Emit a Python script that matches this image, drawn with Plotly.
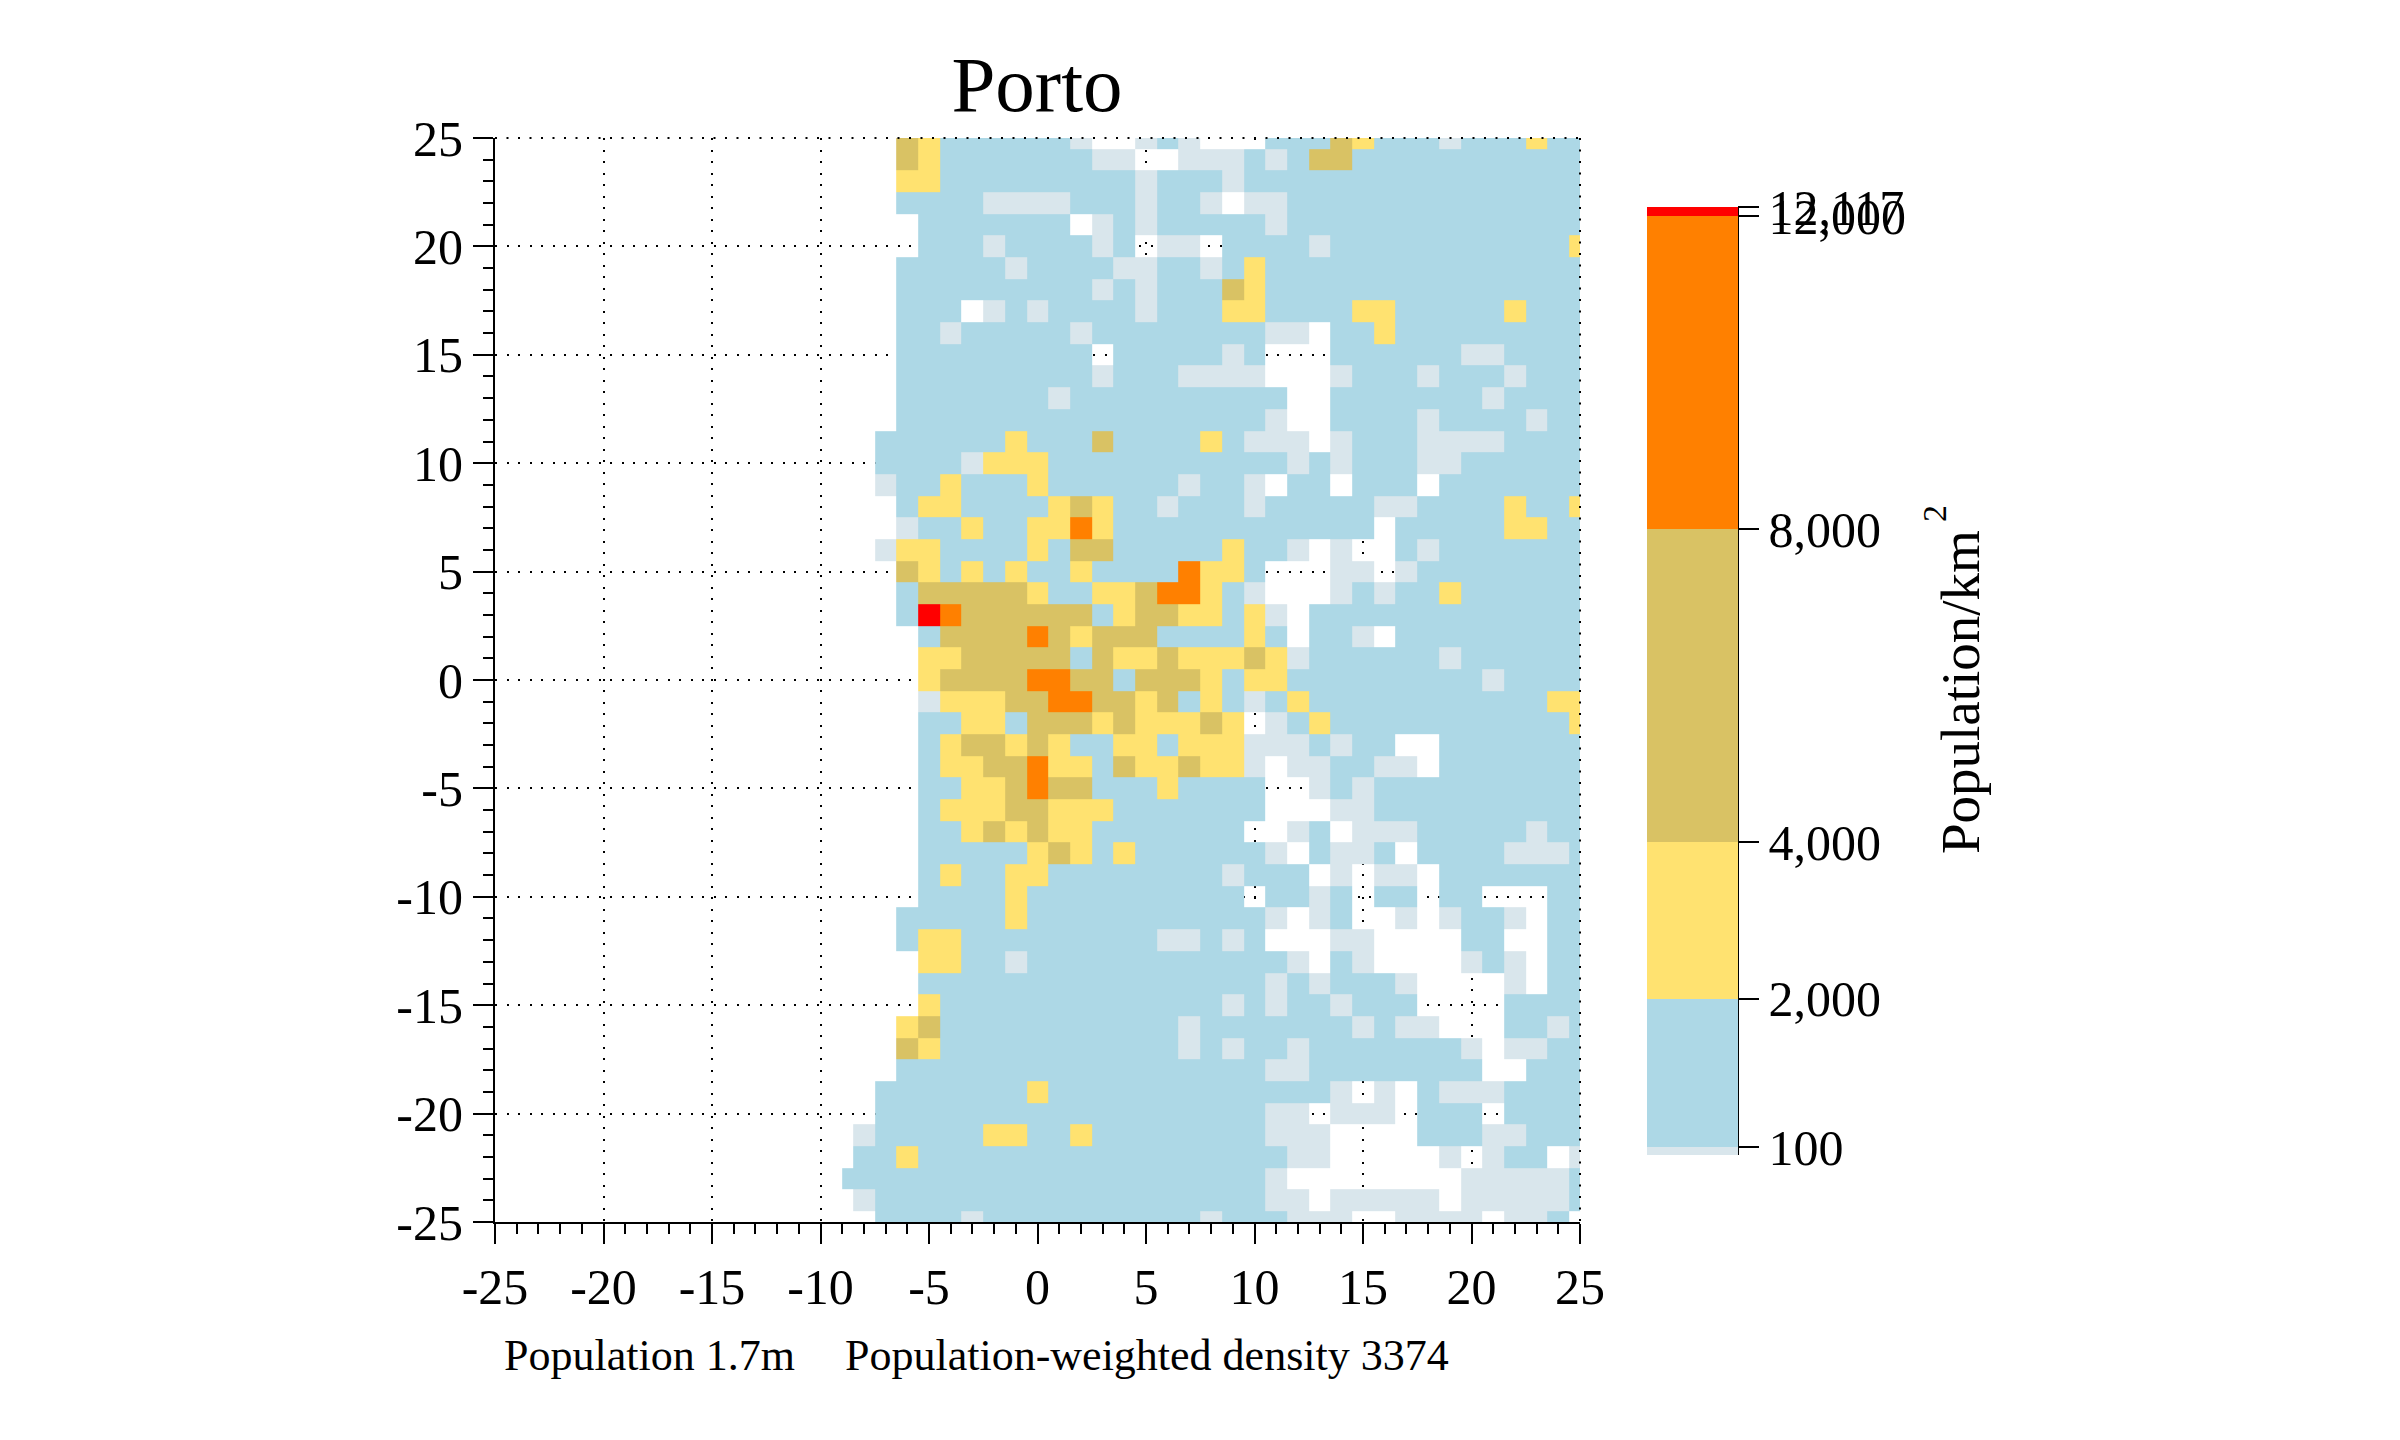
import plotly.graph_objects as go

# population density per cell, read off the map by colour band
# rows run from y=25 down to y=-25, columns from x=-9 to x=25 (left of that is empty)
BAND_VALUES={".":None,"g":50,"b":1000,"y":3000,"k":6000,"o":10000,"r":12117}

grid_rows=[
"...kybbbb bbg..gbg.. .bbbkybbbg bbbybb",
"...kybbbb bbbgg..ggg bgbkkbbbbb bbbbbb",
"...yybbbb bbbbbgbbbg bbbbbbbbbb bbbbbb",
"...bbbbgg ggbbbgbbg. ggbbbbbbbb bbbbbb",
"....bbbbb bb.gbgbbbb bgbbbbbbbb bbbbbb",
"....bbbgb bbbgb.gg.b bbbgbbbbbb bbbbby",
"...bbbbbg bbbbggbbgb ybbbbbbbbb bbbbbb",
"...bbbbbb bbbgbgbbbk ybbbbbbbbb bbbbbb",
"...bbb.gb gbbbbgbbby ybbbbyybbb bbybbb",
"...bbgbbb bbgbbbbbbb bgg.bbybbb bbbbbb",
"...bbbbbb bbb.bbbbbg b...bbbbbb ggbbbb",
"...bbbbbb bbbgbbbggg g...gbbbgb bbgbbb",
"...bbbbbb bgbbbbbbbb bb..bbbbbb bgbbbb",
"...bbbbbb bbbbbbbbbb bg..bbbbgb bbbgbb",
"..bbbbbby bbbkbbbbyb ggg.gbbbgg ggbbbb",
"..bbbbgyy ybbbbbbbbb bbgbgbbbgg bbbbbb",
"..gbbybbb ybbbbbbgbb g.bb.bbb.b bbbbbb",
"...byybbb bykybbgbbb gbbbbbggbb bbybby",
"...gbbybb yyoybbbbbb bbbbbb.bbb bbyybb",
"..gyybbbb ybkkbbbbby bbg.g..bgb bbbbbb",
"...kybyby bbybbbboyy b...gg.gbb bbbbbb",
"...bkkkkk ybbyykooyb g...gbgbby bbbbbb",
"...brokkk kkkbykkyyb yg.bbbbbbb bbbbbb",
"....bkkkk okykkkbbbb yb.bbg.bbb bbbbbb",
"....yykkk kkbkyykyyy kygbbbbbbg bbbbbb",
"....ykkkk ookkbkkkyb yybbbbbbbb bgbbbb",
"....gyyyk kookkykbyb gbybbbbbbb bbbbyy",
"....bbyyb kkkykyyyky .gbybbbbbb bbbbby",
"....bykky kybbyybyyy gggbgbb..b bbbbbb",
"....byykk oyybkyykyy g.ggbbgg.b bbbbbb",
"....bbyyk okkbbbybbb b..gbgbbbb bbbbbb",
"....byyyk kyyybbbbbb b...ggbbbb bbbbbb",
"....bbyky kyybbbbbbb ..gb.gggbb bbbgbb",
"....bbbbb ykybybbbbb bg.bggb.bb bbgggb",
"....bybby ybbbbbbbbg bbb.g.gg.b bbbbbb",
"....bbbby bbbbbbbbbb .bbgb.bb.b b...bb",
"...bbbbby bbbbbbbbbb bg.gb..g.g bbg.bb",
"...byybbb bbbbbbggbg b...gg.... bb..bb",
"....yybbg bbbbbbbbbb bbg.bg.... gbg.bb",
"....bbbbb bbbbbbbbbb bgbgbbbg.. ..g.bb",
"....ybbbb bbbbbbbbbg bgbbgbbb.. ..bbbb",
"...ykbbbb bbbbbbbgbb bbbbbgbgg. ..bbgb",
"...kybbbb bbbbbbbgbg bbgbbbbbbb g.ggbb",
"...bbbbbb bbbbbbbbbb bggbbbbbbb b..bbb",
"..bbbbbbb ybbbbbbbbb bbbbg.g.bg ggbbbb",
"..bbbbbbb bbbbbbbbbb bgg.ggg.bb b.bbbb",
".gbbbbbyy bbybbbbbbb bggg....bb bggbbb",
".bbybbbbb bbbbbbbbbb bbgg.....g .gbb.g",
"bbbbbbbbb bbbbbbbbbb bg........ gggggb",
".gbbbbbbb bbbbbbbbbb bgg.ggggg. gggggb",
"..bbbbgbb bbbbbbbbgb bbggg..ggg g.ggb.",
]

x_cells=list(range(-25,26))
y_cells=list(range(25,-26,-1))
axis_ticks=list(range(-25,26,5))
axis_labels=[str(v) for v in axis_ticks]

band_edges=[0,100,2000,4000,8000,12000,12117]
band_colors=["#d9e6ec","#add8e6","#ffe270","#d9c264","#ff8000","#ff0000"]
bar_ticks=[100,2000,4000,8000,12000,12117]
bar_labels=["100","2,000","4,000","8,000","12,000","12,117"]

FONT="Liberation Serif"
BODY_MARGIN=8
W,H=2400-2*BODY_MARGIN,1440-2*BODY_MARGIN
PLOT_L,PLOT_R,PLOT_T,PLOT_B=495,1580,138,1222
BAR_TOP,BAR_BOTTOM=207,1155
DOTS="2px,9.5px"

def px(x):
    return (x-PLOT_L)/(PLOT_R-PLOT_L)

def py(y):
    return (PLOT_B-y)/(PLOT_B-PLOT_T)

z=[]
for row in grid_rows:
    cells=row.replace(" ","")
    z.append([None]*16+[BAND_VALUES[c] for c in cells])

# cells are centred on the integers, but the one at x=-9 only starts at -9
x_edges=[v-0.5 for v in x_cells]+[25.5]
x_edges[x_cells.index(-9)]=-9

colorscale=[]
for i,color in enumerate(band_colors):
    colorscale.append([band_edges[i]/band_edges[-1],color])
    colorscale.append([band_edges[i+1]/band_edges[-1],color])

fig=go.Figure()
fig.add_trace(go.Heatmap(
    x=x_edges,y=y_cells,z=z,
    zmin=band_edges[0],zmax=band_edges[-1],
    colorscale=colorscale,
    hoverongaps=False,
    colorbar=dict(
        x=px(1647),xanchor="left",xpad=0,
        y=py(BAR_BOTTOM),yanchor="bottom",ypad=0,
        thickness=91,thicknessmode="pixels",
        len=BAR_BOTTOM-BAR_TOP,lenmode="pixels",
        outlinewidth=0,
        tickmode="array",tickvals=bar_ticks,ticktext=bar_labels,
        ticks="outside",ticklen=21,tickwidth=2,tickcolor="black",
        tickfont=dict(family=FONT,size=50,color="black"),
    ),
))

axis_style=dict(
    range=[-25,25],
    tickmode="array",tickvals=axis_ticks,ticktext=axis_labels,
    ticks="outside",ticklen=20,tickwidth=2,tickcolor="black",
    tickfont=dict(family=FONT,size=50,color="black"),
    minor=dict(dtick=1,tick0=-25,ticks="outside",ticklen=10,tickwidth=2,tickcolor="black",showgrid=False),
    showgrid=True,gridcolor="black",gridwidth=2,griddash=DOTS,
    zeroline=False,showline=True,linecolor="black",linewidth=2,
)

annotations=[
    dict(text="Population 1.7m",x=px(502),y=py(1355),xanchor="left",yanchor="middle",size=44),
    dict(text="Population-weighted density 3374",x=px(843),y=py(1355),xanchor="left",yanchor="middle",size=44),
    dict(text="Population/km",x=px(1960),y=py(692),xanchor="center",yanchor="middle",size=55,textangle=-90),
    dict(text="2",x=px(1935),y=py(514),xanchor="center",yanchor="middle",size=34,textangle=-90),
]

fig.update_layout(
    width=W,height=H,
    paper_bgcolor="white",plot_bgcolor="white",
    margin=dict(l=PLOT_L-BODY_MARGIN,r=W-(PLOT_R-BODY_MARGIN),t=PLOT_T-BODY_MARGIN,b=H-(PLOT_B-BODY_MARGIN),pad=0,autoexpand=False),
    title=dict(text="Porto",x=px(1037),xanchor="center",xref="paper",
        y=1-(83-BODY_MARGIN)/H,yanchor="middle",yref="container",
        font=dict(family=FONT,size=79,color="black")),
    xaxis=dict(axis_style,ticklabelstandoff=0),
    yaxis=dict(axis_style),
    annotations=[dict(
        text=a["text"],x=a["x"],y=a["y"],xref="paper",yref="paper",showarrow=False,
        xanchor=a["xanchor"],yanchor=a["yanchor"],textangle=a.get("textangle",0),
        font=dict(family=FONT,size=a["size"],color="black")) for a in annotations],
    shapes=[
        # dotted top and right edges sit on top of the map
        dict(type="line",xref="paper",yref="paper",x0=0,x1=1,y0=1,y1=1,layer="above",line=dict(color="black",width=2,dash=DOTS)),
        dict(type="line",xref="paper",yref="paper",x0=1,x1=1,y0=1,y1=0,layer="above",line=dict(color="black",width=2,dash=DOTS)),
        # colour bar axis line
        dict(type="line",xref="paper",yref="paper",x0=px(1738),x1=px(1738),y0=py(BAR_TOP),y1=py(BAR_BOTTOM),layer="above",line=dict(color="black",width=2)),
    ],
)

fig.write_html("out.html")
